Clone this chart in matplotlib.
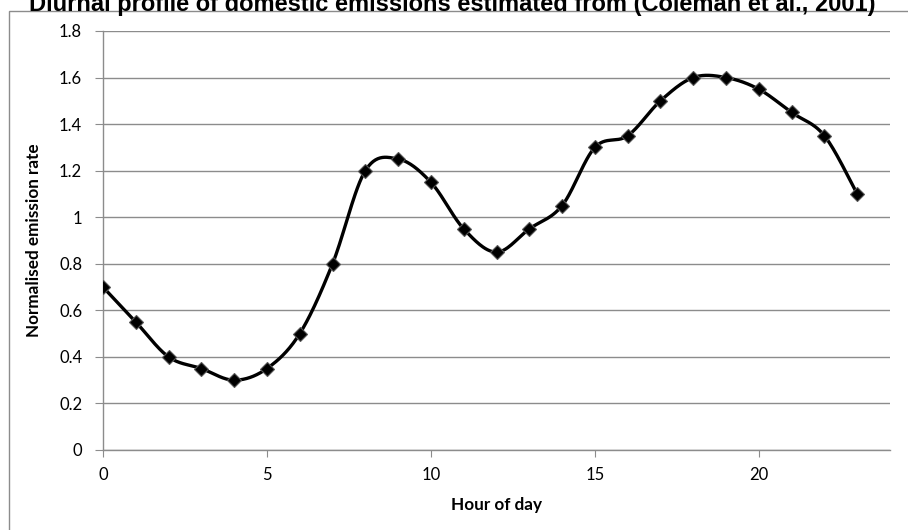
import matplotlib.pyplot as plt
import numpy as np
from matplotlib.patches import Rectangle

# Hourly normalised emission factors
hours = list(range(24))
emission = [0.7, 0.55, 0.4, 0.35, 0.3, 0.35, 0.5, 0.8, 1.2, 1.25, 1.15, 0.95,
            0.85, 0.95, 1.05, 1.3, 1.35, 1.5, 1.6, 1.6, 1.55, 1.45, 1.35, 1.1]
y_ticks = [0, 0.2, 0.4, 0.6, 0.8, 1, 1.2, 1.4, 1.6, 1.8]
y_tick_labels = ['0', '0.2', '0.4', '0.6', '0.8', '1', '1.2', '1.4', '1.6', '1.8']
x_ticks = [0, 5, 10, 15, 20]


def smooth_curve(x, y, n=30):
    # Catmull-Rom style bezier through each point (spreadsheet "smoothed line")
    x = np.asarray(x, float)
    y = np.asarray(y, float)
    px = np.concatenate([[x[0]], x, [x[-1]]])
    py = np.concatenate([[y[0]], y, [y[-1]]])
    xs, ys = [], []
    t = np.linspace(0, 1, n)
    for i in range(1, len(px) - 2):
        p0 = np.array([px[i], py[i]])
        p3 = np.array([px[i + 1], py[i + 1]])
        c1 = p0 + (np.array([px[i + 1], py[i + 1]]) - np.array([px[i - 1], py[i - 1]])) / 6
        c2 = p3 - (np.array([px[i + 2], py[i + 2]]) - np.array([px[i], py[i]])) / 6
        b = ((1 - t) ** 3)[:, None] * p0 + (3 * (1 - t) ** 2 * t)[:, None] * c1 \
            + (3 * (1 - t) * t ** 2)[:, None] * c2 + (t ** 3)[:, None] * p3
        xs.extend(b[:, 0])
        ys.extend(b[:, 1])
    return xs, ys


plt.rcParams['font.family'] = ['Lato', 'DejaVu Sans']

fig = plt.figure(figsize=(9.08, 5.30), dpi=100)
ax = fig.add_axes([103 / 908, 1 - 450 / 530, 787 / 908, 419 / 530])

sx, sy = smooth_curve(hours, emission)
ax.plot(sx, sy, color='black', lw=2.4, zorder=3)
ax.plot(hours, emission, ls='none', marker='D', ms=7, mfc='black',
        mec='#555555', mew=0.8, zorder=4)

ax.set_xlim(0, 24)
ax.set_ylim(0, 1.8)
ax.set_yticks(y_ticks)
ax.set_yticklabels(y_tick_labels)
ax.set_xticks(x_ticks)
ax.grid(axis='y', color='#8c8c8c', lw=1)
ax.set_axisbelow(True)

for side in ['top', 'right']:
    ax.spines[side].set_visible(False)
for side in ['left', 'bottom']:
    ax.spines[side].set_color('#8c8c8c')
    ax.spines[side].set_linewidth(1)
ax.tick_params(axis='y', direction='out', length=6, color='#8c8c8c',
               labelsize=12, pad=9)
ax.tick_params(axis='x', direction='out', length=5, color='#8c8c8c',
               labelsize=12, pad=7)

ax.set_xlabel('Hour of day', fontsize=12.3, fontweight='bold', labelpad=10)
ax.set_ylabel('Normalised emission rate', fontsize=12.3, fontweight='bold',
              labelpad=12)

# chart border and title
fig.patches.append(Rectangle((9 / 908, -0.2), 1.2, 1.2 - 11 / 530,
                             transform=fig.transFigure, fill=False,
                             edgecolor='#8c8c8c', lw=1))
fig.text(452 / 908, 1 - 11 / 530,
         'Diurnal profile of domestic emissions estimated from (Coleman et al., 2001)',
         ha='center', va='baseline', fontsize=17, fontweight='bold',
         family='Liberation Sans')

fig.savefig('out.png', dpi=100)
